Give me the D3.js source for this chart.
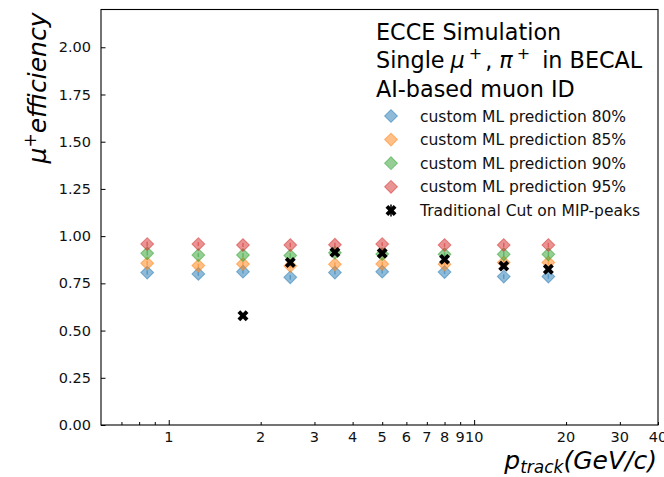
<!DOCTYPE html>
<html><head><meta charset="utf-8">
<script src="https://cdn.jsdelivr.net/npm/d3@7"></script>
<style>body{margin:0;background:#fff}svg{font-family:"DejaVu Sans",sans-serif}</style>
</head><body><svg id="c" width="664" height="477"></svg>
<script>
const momenta = [0.85, 1.25, 1.75, 2.5, 3.5, 5, 8, 12.5, 17.5];
const ml80 = [0.807, 0.800, 0.812, 0.782, 0.807, 0.812, 0.810, 0.786, 0.786];
const ml85 = [0.856, 0.844, 0.853, 0.842, 0.851, 0.853, 0.851, 0.860, 0.860];
const ml90 = [0.909, 0.900, 0.900, 0.897, 0.912, 0.905, 0.904, 0.904, 0.904];
const ml95 = [0.958, 0.958, 0.953, 0.953, 0.955, 0.958, 0.953, 0.953, 0.953];
const mlErr = [0.012, 0.010, 0.010, 0.012, 0.010, 0.010, 0.010, 0.012, 0.012];
const tradP = [1.75, 2.5, 3.5, 5, 8, 12.5, 17.5];
const tradCut = [0.578, 0.860, 0.914, 0.909, 0.877, 0.842, 0.825];
const seriesNames = ["custom ML prediction 80%", "custom ML prediction 85%", "custom ML prediction 90%", "custom ML prediction 95%"];
const seriesColors = ["#1f77b4", "#ff7f0e", "#2ca02c", "#d62728"];
const tradName = "Traditional Cut on MIP-peaks";
const yTicks = [0, 0.25, 0.5, 0.75, 1.0, 1.25, 1.5, 1.75, 2.0];
const xMajor = [1, 10];
const xMinor = [0.7, 0.8, 0.9, 2, 3, 4, 5, 6, 7, 8, 9, 20, 30, 40];
const xLabels = [1, 2, 3, 4, 5, 6, 7, 8, 9, 10, 20, 30, 40];

const svg = d3.select("#c");
const L = 101, R = 658, T = 9.5, B = 425;
const x = d3.scaleLog().domain([0.6, 40]).range([L, R]);
const y = d3.scaleLinear().domain([0, 2.2]).range([B, T]);

svg.append("rect").attr("x", L).attr("y", T).attr("width", R - L).attr("height", B - T)
  .attr("fill", "none").attr("stroke", "#000").attr("stroke-width", 1.1);

const yAxis = d3.axisLeft(y).tickValues(yTicks).tickFormat(d3.format(".2f")).tickSizeInner(-4.5).tickSizeOuter(0).tickPadding(10);
const gy = svg.append("g").attr("transform", `translate(${L},0)`).call(yAxis);
gy.select(".domain").remove();
gy.selectAll("text").attr("font-size", 14.5).attr("fill", "#111").attr("font-family", "DejaVu Sans");

const gxM = svg.append("g").attr("transform", `translate(0,${B})`)
  .call(d3.axisBottom(x).tickValues(xMajor).tickFormat("").tickSizeInner(-5).tickSizeOuter(0));
gxM.select(".domain").remove();
const gxm = svg.append("g").attr("transform", `translate(0,${B})`)
  .call(d3.axisBottom(x).tickValues(xMinor).tickFormat("").tickSizeInner(-3).tickSizeOuter(0));
gxm.select(".domain").remove();
svg.append("g").selectAll("text").data(xLabels).join("text")
  .attr("x", d => x(d)).attr("y", B + 17).attr("text-anchor", "middle")
  .attr("font-size", 14.5).attr("fill", "#111").text(d => d);

const allML = [ml80, ml85, ml90, ml95];
const diamond = d3.symbol().type(d3.symbolSquare).size(82);
allML.forEach((vals, si) => {
  const g = svg.append("g");
  const col = seriesColors[si];
  g.selectAll("line").data(vals).join("line")
    .attr("x1", (d, i) => x(momenta[i])).attr("x2", (d, i) => x(momenta[i]))
    .attr("y1", (d, i) => y(d - mlErr[i])).attr("y2", (d, i) => y(d + mlErr[i]))
    .attr("stroke", col).attr("stroke-opacity", 0.5).attr("stroke-width", 1.5);
  g.selectAll("path").data(vals).join("path")
    .attr("d", diamond)
    .attr("transform", (d, i) => `translate(${x(momenta[i])},${y(d)}) rotate(45)`)
    .attr("fill", col).attr("fill-opacity", 0.5).attr("stroke", col).attr("stroke-opacity", 0.5).attr("stroke-width", 1);
});

const xMark = d3.symbol().type(d3.symbolCross).size(75);
svg.append("g").selectAll("path").data(tradCut).join("path")
  .attr("d", xMark)
  .attr("transform", (d, i) => `translate(${x(tradP[i])},${y(d)}) rotate(45)`)
  .attr("fill", "#000");

const yl = svg.append("text").attr("transform", "translate(46,88) rotate(-90)")
  .attr("text-anchor", "middle").attr("font-size", 25).attr("font-style", "italic").attr("fill", "#000");
yl.append("tspan").text("μ");
yl.append("tspan").attr("dy", -10).attr("font-size", 17).attr("font-style", "normal").text("+");
yl.append("tspan").attr("dy", 10).text("efficiency");

const xl = svg.append("text").attr("x", 657).attr("y", 469).attr("text-anchor", "end")
  .attr("font-size", 25).attr("font-style", "italic").attr("fill", "#000");
xl.append("tspan").text("p");
xl.append("tspan").attr("dy", 4).attr("font-size", 17).text("track");
xl.append("tspan").attr("dy", -4).text("(GeV/c)");

const tx = 376, fs = 22.3;
svg.append("text").attr("x", tx).attr("y", 40).attr("font-size", fs).text("ECCE Simulation");
const t2 = svg.append("text").attr("x", tx).attr("y", 68).attr("font-size", fs);
t2.append("tspan").text("Single");
t2.append("tspan").attr("dx", 6).attr("font-style", "italic").text("μ");
t2.append("tspan").attr("dx", 4).attr("dy", -9).attr("font-size", 16).text("+");
t2.append("tspan").attr("dx", 3).attr("dy", 9).text(",");
t2.append("tspan").attr("dx", 7).attr("font-style", "italic").text("π");
t2.append("tspan").attr("dx", 4).attr("dy", -9).attr("font-size", 16).text("+");
t2.append("tspan").attr("dx", 5).attr("dy", 9).text(" in BECAL");
svg.append("text").attr("x", tx).attr("y", 97).attr("font-size", fs).text("AI-based muon ID");

const ly0 = 116, ldy = 23.6, lfs = 15.5;
seriesNames.forEach((nm, i) => {
  const yy = ly0 + i * ldy;
  svg.append("path").attr("d", diamond).attr("transform", `translate(391,${yy}) rotate(45)`)
    .attr("fill", seriesColors[i]).attr("fill-opacity", 0.5).attr("stroke", seriesColors[i]).attr("stroke-opacity", 0.5);
  svg.append("text").attr("x", 420).attr("y", yy + 5.5).attr("font-size", lfs).attr("fill", "#111").text(nm);
});
{
  const yy = ly0 + 4 * ldy;
  svg.append("line").attr("x1", 391).attr("x2", 391).attr("y1", yy - 6).attr("y2", yy + 6).attr("stroke", "#000").attr("stroke-width", 1.5);
  svg.append("path").attr("d", xMark).attr("transform", `translate(391,${yy}) rotate(45)`).attr("fill", "#000");
  svg.append("text").attr("x", 420).attr("y", yy + 5.5).attr("font-size", lfs).attr("fill", "#111").text(tradName);
}
</script></body></html>
